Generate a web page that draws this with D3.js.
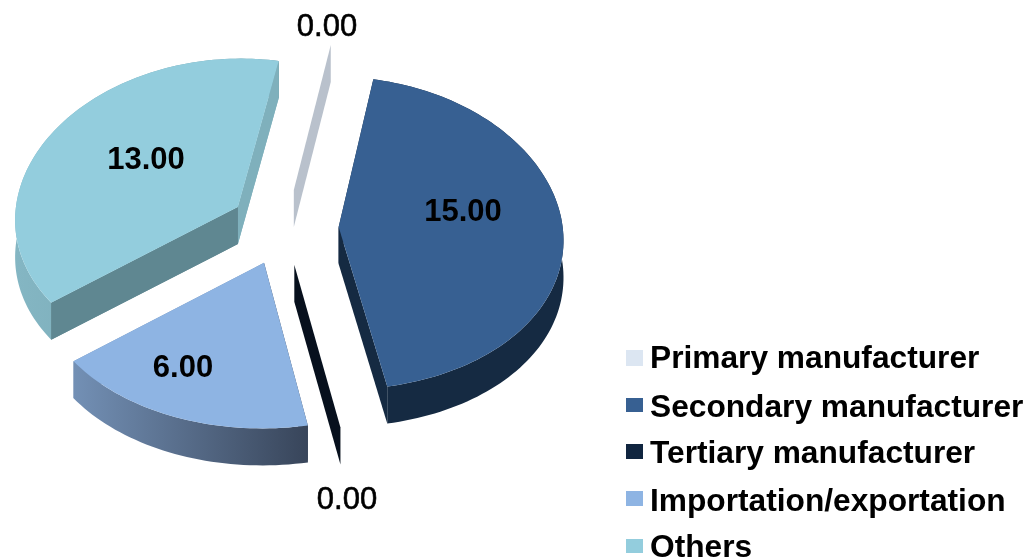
<!DOCTYPE html>
<html><head><meta charset="utf-8">
<script src="https://cdnjs.cloudflare.com/ajax/libs/d3/7.8.5/d3.min.js"></script>
<style>html,body{margin:0;padding:0;background:#fff}svg{display:block}</style>
</head><body><svg id="c" width="1026" height="558"></svg>
<script>
const categories = ["Primary manufacturer","Secondary manufacturer","Tertiary manufacturer","Importation/exportation","Others"];
const values = [0,15,0,6,13];
const topColors = ["#dce6f2","#376092","#10253f","#8eb4e3","#93cddd"];

const W = {cx:284, cy:227, rx:224, ry:156, perspX:0.07, perspY:0.04, explode:0.244, depth:37};
const wallStyle = [
  {start:"#b9c1cc", end:"#b9c1cc", arc:"#b9c1cc"},
  {start:"#152a42", end:"#152a42", arc:"#152a42"},
  {start:"#07101d", end:"#07101d", arc:"#07101d"},
  {start:"#38455a", end:"#7390b5", arc:"url(#impGrad)"},
  {start:"#5f8791", end:"#7fb0bc", arc:"url(#othGrad)"}
];
const labelPos = [[327,25],[463,210],[347,498],[183,366],[146,158]];
const legendRows = [[350,366,368],[398,412,417],[444,459,463],[491,506,511],[539,553,557]];

const svg = d3.select("#c");
const defs = svg.append("defs");
function grad(id,a,b){
  const g = defs.append("linearGradient").attr("id",id);
  g.append("stop").attr("offset","0%").attr("stop-color",a);
  g.append("stop").attr("offset","100%").attr("stop-color",b);
}
grad("impGrad","#7390b5","#38455a");
grad("othGrad","#84b6c3","#6f9eaa");
defs.append("filter").attr("id","soft").append("feGaussianBlur").attr("stdDeviation",0.45);

const color = d3.scaleOrdinal(categories, topColors);
const deg = Math.PI/180;
const arcs = d3.pie().sort(null).value(d=>d)
  .startAngle(10.5*deg).endAngle(370.5*deg)(values);

function project(X,Y,drop){
  const sx = 1/(1 - W.perspX*Y), sy = 1/(1 - W.perspY*Y);
  return [W.cx + X*W.rx*sx, W.cy + Y*W.ry*sy + (drop||0)];
}
const line = d3.line();
const sliceOrder = [0,4,1,3,2];

sliceOrder.forEach(i=>{
  const a = arcs[i], mid = (a.startAngle+a.endAngle)/2;
  const ox = W.explode*Math.sin(mid), oy = -W.explode*Math.cos(mid);
  const pt = (t,r)=>[ox + r*Math.sin(t), oy - r*Math.cos(t)];
  const steps = Math.max(1,Math.round((a.endAngle-a.startAngle)/(1.5*deg)));
  const angs = d3.range(steps+1).map(k=>a.startAngle+(a.endAngle-a.startAngle)*k/steps);
  const rim = angs.map(t=>pt(t,1));
  const apex = pt(0,0);
  const g = svg.append("g").attr("class","slice");
  const top = rim.map(p=>project(p[0],p[1]));
  const low = rim.map(p=>project(p[0],p[1],W.depth));
  const A = project(apex[0],apex[1]), B = project(apex[0],apex[1],W.depth);
  const st = wallStyle[i];
  if(a.endAngle>a.startAngle){
    g.append("path").attr("d",line([A,top[steps],low[steps],B])+"Z").attr("fill",st.end);
    g.append("path").attr("d",line([A,top[0],low[0],B])+"Z").attr("fill",st.start);
    g.append("path").attr("d",line(top.concat(low.slice().reverse()))+"Z")
      .attr("fill",st.arc);
    if(i===4){
      g.append("path").attr("d",line([A,top[steps],low[steps],B])+"Z").attr("fill",st.end);
      g.append("path").attr("d",line([A,top[0],low[0],B])+"Z").attr("fill",st.start);
    }
    g.append("path").attr("d",line([A,...top])+"Z").attr("fill",color(categories[i]));
  } else {
    g.append("path").attr("d",line([A,top[0],low[0],B])+"Z").attr("fill",st.start);
  }
});

svg.append("g").attr("filter","url(#soft)").selectAll("text").data(values).join("text")
  .attr("x",(d,i)=>labelPos[i][0]).attr("y",(d,i)=>labelPos[i][1])
  .attr("text-anchor","middle").attr("dy","0.36em")
  .attr("font-family","'Liberation Sans',Arial,sans-serif")
  .attr("font-size",31).attr("fill","#000")
  .attr("stroke","#000").attr("stroke-width",d=>d>0?0:0.6)
  .attr("font-weight",d=>d>0?"bold":"normal")
  .text(d=>d.toFixed(2));

const lg = svg.append("g").selectAll("g").data(categories).join("g");
lg.append("rect").attr("x",626).attr("width",17)
  .attr("y",(d,i)=>legendRows[i][0]).attr("height",(d,i)=>legendRows[i][1]-legendRows[i][0])
  .attr("fill",d=>color(d));
lg.append("text").attr("x",650).attr("y",(d,i)=>legendRows[i][2])
  .attr("filter","url(#soft)")
  .attr("font-family","'Liberation Sans',Arial,sans-serif")
  .attr("font-weight","bold").attr("font-size",31.7).attr("fill","#000")
  .text(d=>d);
</script></body></html>
